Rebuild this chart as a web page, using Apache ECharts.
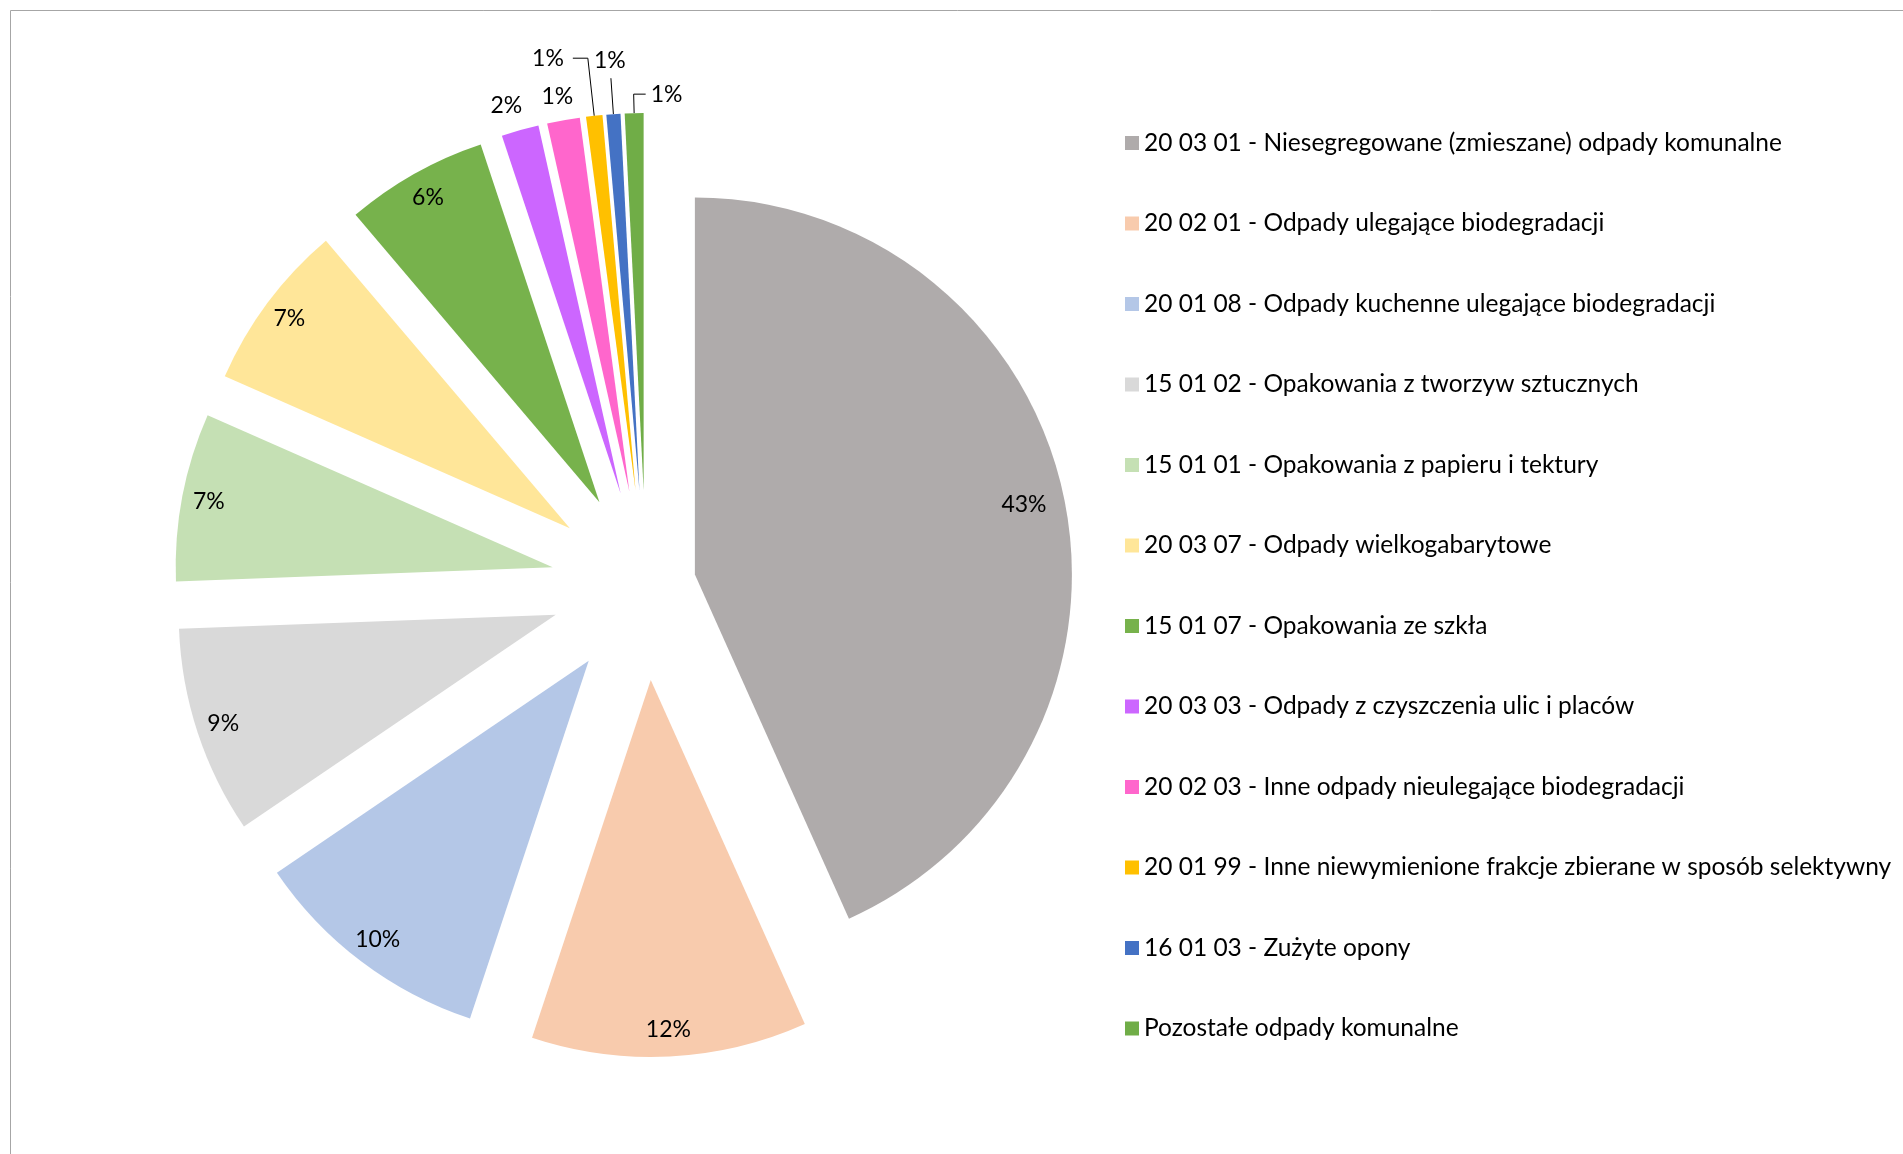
<!DOCTYPE html>
<html>
<head>
<meta charset="utf-8">
<script src="https://cdn.jsdelivr.net/npm/echarts@6/dist/echarts.min.js"></script>
<style>
html,body{margin:0;padding:0;background:#ffffff;}
#chart{width:1903px;height:1154px;}
</style>
</head>
<body>
<div id="chart"></div>
<script>
// ---- data ----
const categories = [
  '20 03 01 - Niesegregowane (zmieszane) odpady komunalne',
  '20 02 01 - Odpady ulegające biodegradacji',
  '20 01 08 - Odpady kuchenne ulegające biodegradacji',
  '15 01 02 - Opakowania z tworzyw sztucznych',
  '15 01 01 - Opakowania z papieru i tektury',
  '20 03 07 - Odpady wielkogabarytowe',
  '15 01 07 - Opakowania ze szkła',
  '20 03 03 - Odpady z czyszczenia ulic i placów',
  '20 02 03 - Inne odpady nieulegające biodegradacji',
  '20 01 99 - Inne niewymienione frakcje zbierane w sposób selektywny',
  '16 01 03 - Zużyte opony',
  'Pozostałe odpady komunalne'
];
const values = [43.3, 11.8, 10.4, 8.9, 7.2, 7.2, 6.1, 1.6, 1.4, 0.7, 0.6, 0.8];

// ---- styles ----
const colors = ['#AFABAB', '#F8CBAD', '#B4C7E7', '#D9D9D9', '#C5E0B4', '#FFE699',
                '#77B24C', '#CC66FF', '#FF66CC', '#FFC000', '#4472C4', '#70AD47'];
const CENTER = [646, 585];
const R = 377;
const CLEAR = 'rgba(0,0,0,0)';
const FONT = 'Lato, "Open Sans", sans-serif';
const LESS_EXPLODED = 0; // the big slice is pulled out less than the others

// outside labels of the thin slices (label/leader settings)
const outside = {
  7:  { line: false, len: 25.5, len2: -14, dist: 5 },
  8:  { line: false, len: 23.6, len2: -19, dist: 5 },
  9:  { line: true,  len: 58,   len2: 15,  dist: 9 },
  10: { line: true,  len: 36,   len2: 0,   dist: 1, align: 'center', vAlign: 'bottom', pad: [0, 0, 6, 0] },
  11: { line: true,  len: 19,   len2: -12, dist: -5, align: 'left' }
};

const labelText = { fontFamily: FONT, fontSize: 23, color: '#000000' };

function basePie(offset, radius) {
  return {
    type: 'pie',
    center: CENTER,
    radius: radius,
    startAngle: 90,
    clockwise: true,
    selectedMode: 'multiple',
    selectedOffset: offset,
    avoidLabelOverlap: false,
    percentPrecision: 0,
    silent: true,
    animation: false,
    emphasis: { disabled: true },
    itemStyle: { borderWidth: 0 },
    labelLine: { show: false }
  };
}

// A: the big slice
const seriesA = Object.assign(basePie(50, [0, R]), {
  label: { show: false },
  data: categories.map((n, i) => ({
    name: n, value: values[i], selected: i === LESS_EXPLODED,
    itemStyle: { color: i === LESS_EXPLODED ? colors[i] : CLEAR }
  }))
});

// B: all other slices + outside labels
const seriesB = Object.assign(basePie(95, [0, R]), {
  label: { show: false },
  labelLayout: function (p) {
    const o = outside[p.dataIndex];
    if (o && (o.align || o.vAlign)) {
      const r = {};
      if (o.align) r.align = o.align;
      if (o.vAlign) r.verticalAlign = o.vAlign;
      return r;
    }
  },
  data: categories.map((n, i) => {
    const item = {
      name: n, value: values[i], selected: i !== LESS_EXPLODED,
      itemStyle: { color: i === LESS_EXPLODED ? CLEAR : colors[i] }
    };
    const o = outside[i];
    if (o) {
      item.label = Object.assign({ show: true, position: 'outside', formatter: '{d}%',
        distanceToLabelLine: o.dist, padding: o.pad || 0 }, labelText);
      item.labelLine = { show: o.line, length: o.len, length2: o.len2, smooth: false,
        minTurnAngle: 0, maxSurfaceAngle: 180,
        lineStyle: { color: '#000000', width: 1 } };
    }
    return item;
  })
});

// C: label ring for the big slice
const seriesC = Object.assign(basePie(50, [290, R]), {
  data: categories.map((n, i) => ({
    name: n, value: values[i], selected: i === LESS_EXPLODED,
    itemStyle: { color: CLEAR },
    label: Object.assign({ show: i === LESS_EXPLODED, position: 'inside', formatter: '{d}%' }, labelText)
  }))
});

// D: label ring for the other large slices
const seriesD = Object.assign(basePie(95, [317, R]), {
  data: categories.map((n, i) => ({
    name: n, value: values[i], selected: i !== LESS_EXPLODED,
    itemStyle: { color: CLEAR },
    label: Object.assign({ show: i !== LESS_EXPLODED && !outside[i], position: 'inside', formatter: '{d}%' }, labelText)
  }))
});

const chart = echarts.init(document.getElementById('chart'), null, { renderer: 'canvas' });
chart.setOption({
  backgroundColor: '#ffffff',
  animation: false,
  graphic: [{
    type: 'rect', silent: true,
    shape: { x: 10.5, y: 10.5, width: 4000, height: 4000 },
    style: { fill: 'none', stroke: '#A6A6A6', lineWidth: 1 }
  }],
  legend: {
    orient: 'vertical',
    left: 1120,
    top: 124,
    icon: 'rect',
    itemWidth: 14,
    itemHeight: 14,
    itemGap: 52.5,
    selectedMode: false,
    textStyle: { fontFamily: FONT, fontSize: 24.5, color: '#000000', lineHeight: 28 },
    data: categories.map((n, i) => ({ name: n, itemStyle: { color: colors[i] } }))
  },
  series: [seriesA, seriesB, seriesC, seriesD]
});
</script>
</body>
</html>
